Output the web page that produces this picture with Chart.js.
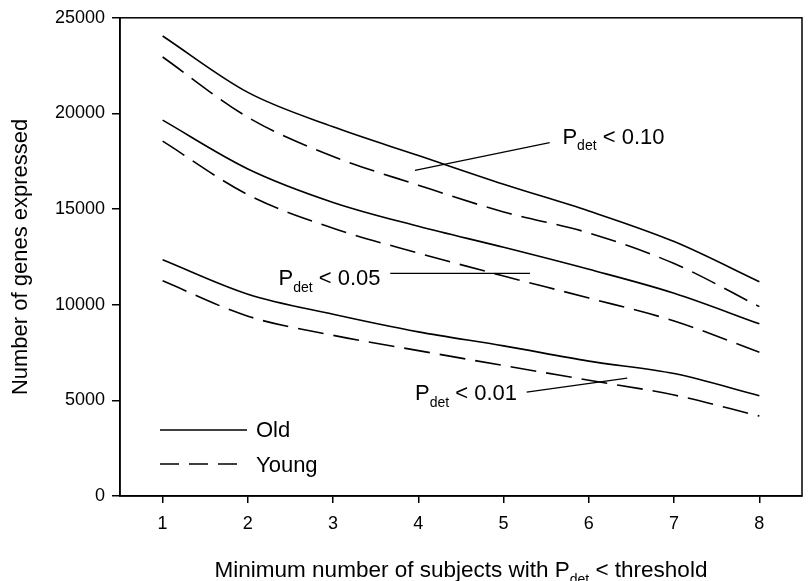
<!DOCTYPE html>
<html>
<head>
<meta charset="utf-8">
<script src="https://cdn.jsdelivr.net/npm/chart.js@4.4.1/dist/chart.umd.min.js"></script>
<style>
  html, body { margin: 0; padding: 0; background: #fff; }
</style>
</head>
<body>
<canvas id="chart" width="811" height="581"></canvas>
<script>
// values
var subjects = [1, 2, 3, 4, 5, 6, 7, 8];
var old10   = [24050, 21100, 19300, 17800, 16300, 14900, 13300, 11200];
var young10 = [22950, 19800, 17750, 16250, 14850, 13750, 12150, 9900];
var old05   = [19650, 17100, 15350, 14100, 13000, 11850, 10600, 9000];
var young05 = [18550, 15750, 14000, 12700, 11500, 10350, 9150, 7520];
var old01   = [12350, 10550, 9500, 8580, 7850, 7050, 6400, 5240];
var young01 = [11250, 9400, 8400, 7600, 6820, 6050, 5280, 4180];
var xTicks = [1, 2, 3, 4, 5, 6, 7, 8];
var yTicks = [0, 5000, 10000, 15000, 20000, 25000];

// threshold labels: text anchor and leader line, in data units
var labels = [
    { rest: ' < 0.10', text: [5.69, 18420], line: [[3.96, 17020], [5.54, 18475]] },
    { rest: ' < 0.05', text: [2.36, 11010], line: [[3.67, 11640], [5.31, 11640]] },
    { rest: ' < 0.01', text: [3.96, 5010],  line: [[5.27, 5430], [6.45, 6160]] }
];

var FONT = '"Liberation Sans", Arial, sans-serif';
var DASH = [26, 10];

function points(ys) {
    return subjects.map(function (x, i) { return { x: x, y: ys[i] }; });
}

function series(ys, dashed) {
    return {
        data: points(ys),
        borderColor: '#000',
        borderWidth: 1.6,
        borderDash: dashed ? DASH : [],
        pointRadius: 0,
        fill: false,
        cubicInterpolationMode: 'monotone'
    };
}

// P with "det" subscript followed by the rest of the text
function drawPdet(ctx, x, y, size, rest) {
    ctx.textAlign = 'left';
    ctx.textBaseline = 'alphabetic';
    ctx.font = size + 'px ' + FONT;
    ctx.fillText('P', x, y);
    x += ctx.measureText('P').width;
    var sub = Math.round(size * 0.62);
    ctx.font = sub + 'px ' + FONT;
    ctx.fillText('det', x, y + size * 0.3);
    x += ctx.measureText('det').width;
    ctx.font = size + 'px ' + FONT;
    ctx.fillText(rest, x, y);
    return x + ctx.measureText(rest).width;
}

var extras = {
    id: 'extras',
    beforeDraw: function (chart) {
        var ctx = chart.ctx;
        ctx.save();
        ctx.fillStyle = '#fff';
        ctx.fillRect(0, 0, chart.width, chart.height);
        ctx.restore();
    },
    afterDraw: function (chart) {
        var ctx = chart.ctx;
        var a = chart.chartArea;
        var xs = chart.scales.x, ys = chart.scales.y;
        ctx.save();
        ctx.strokeStyle = '#000';
        ctx.fillStyle = '#000';

        // frame
        ctx.lineWidth = 1.5;
        ctx.strokeRect(a.left, a.top, a.right - a.left, a.bottom - a.top);

        // threshold labels
        ctx.lineWidth = 1.3;
        labels.forEach(function (l) {
            ctx.beginPath();
            ctx.moveTo(xs.getPixelForValue(l.line[0][0]), ys.getPixelForValue(l.line[0][1]));
            ctx.lineTo(xs.getPixelForValue(l.line[1][0]), ys.getPixelForValue(l.line[1][1]));
            ctx.stroke();
            drawPdet(ctx, xs.getPixelForValue(l.text[0]), ys.getPixelForValue(l.text[1]), 22, l.rest);
        });

        // legend
        ctx.lineWidth = 1.6;
        ctx.beginPath();
        ctx.moveTo(160, 430);
        ctx.lineTo(247, 430);
        ctx.stroke();
        ctx.setLineDash([19, 10]);
        ctx.beginPath();
        ctx.moveTo(160, 464);
        ctx.lineTo(247, 464);
        ctx.stroke();
        ctx.setLineDash([]);
        ctx.font = '22px ' + FONT;
        ctx.textAlign = 'left';
        ctx.textBaseline = 'middle';
        ctx.fillText('Old', 256, 431);
        ctx.fillText('Young', 256, 466);

        // axis titles
        var size = 22.5;
        var cx = (a.left + a.right) / 2;
        ctx.font = size + 'px ' + FONT;
        var w1 = ctx.measureText('Minimum number of subjects with P').width;
        ctx.font = Math.round(size * 0.62) + 'px ' + FONT;
        var w2 = ctx.measureText('det').width;
        ctx.font = size + 'px ' + FONT;
        var w3 = ctx.measureText(' < threshold').width;
        var x0 = cx - (w1 + w2 + w3) / 2;
        ctx.textBaseline = 'alphabetic';
        ctx.fillText('Minimum number of subjects with ', x0, 577);
        x0 += ctx.measureText('Minimum number of subjects with ').width;
        drawPdet(ctx, x0, 577, size, ' < threshold');

        ctx.translate(21, (a.top + a.bottom) / 2);
        ctx.rotate(-Math.PI / 2);
        ctx.textAlign = 'center';
        ctx.textBaseline = 'middle';
        ctx.font = '22px ' + FONT;
        ctx.fillText('Number of genes expressed', 0, 0);
        ctx.restore();
    }
};

new Chart(document.getElementById('chart').getContext('2d'), {
    type: 'line',
    data: {
        datasets: [
            series(old10, false),
            series(young10, true),
            series(old05, false),
            series(young05, true),
            series(old01, false),
            series(young01, true)
        ]
    },
    options: {
        responsive: false,
        animation: false,
        layout: { padding: { top: 17, right: 9, left: 0, bottom: 0 } },
        plugins: {
            legend: { display: false },
            tooltip: { enabled: false }
        },
        scales: {
            x: {
                type: 'linear',
                min: 0.5,
                max: 8.5,
                afterBuildTicks: function (axis) {
                    axis.ticks = xTicks.map(function (v) { return { value: v }; });
                },
                afterFit: function (axis) { axis.height = 85; },
                grid: { drawOnChartArea: false, drawTicks: true, tickLength: 7, color: '#000', lineWidth: 1.5 },
                border: { display: true, color: '#000', width: 1.5 },
                ticks: { color: '#000', padding: 10, font: { family: FONT, size: 18 } }
            },
            y: {
                min: 0,
                max: 25000,
                afterBuildTicks: function (axis) {
                    axis.ticks = yTicks.map(function (v) { return { value: v }; });
                },
                afterFit: function (axis) { axis.width = 120; },
                grid: { drawOnChartArea: false, drawTicks: true, tickLength: 8, color: '#000', lineWidth: 1.5 },
                border: { display: true, color: '#000', width: 1.5 },
                ticks: {
                    color: '#000',
                    padding: 7,
                    font: { family: FONT, size: 18 },
                    callback: function (v) { return String(v); }
                }
            }
        }
    },
    plugins: [extras]
});
</script>
</body>
</html>
